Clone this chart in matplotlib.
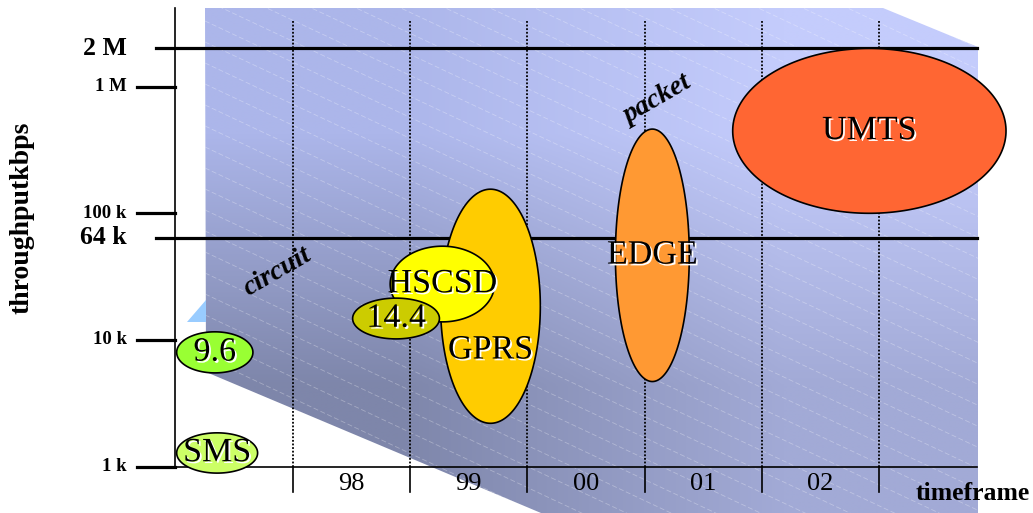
import numpy as np
import matplotlib
matplotlib.use('Agg')
import matplotlib.pyplot as plt
import matplotlib.patches as patches
import matplotlib.patheffects as pe

# throughput scale (bps)
tick_labels = ['2 M', '1 M', '100 k', '64 k', '10 k', '1 k']
tick_values = [2e6, 1e6, 1e5, 64e3, 1e4, 1e3]
tick_long = [True, False, False, True, False, False]

# time axis
year_bounds = [1998, 1999, 2000, 2001, 2002, 2003]
year_labels = ['98', '99', '00', '01', '02']

# technologies: time span (years) and throughput span (bps)
tech_names = ['SMS', '9.6', 'GPRS', 'HSCSD', '14.4', 'EDGE', 'UMTS']
tech_start = [1997.01, 1997.01, 1999.26, 1998.83, 1998.51, 2000.75, 2001.75]
tech_end = [1997.70, 1997.66, 2000.11, 1999.72, 1999.25, 2001.38, 2004.08]
tech_low = [0.89e3, 5.5e3, 2.2e3, 13.9e3, 10.2e3, 4.7e3, 100e3]
tech_high = [1.85e3, 11.6e3, 155e3, 55e3, 21.4e3, 462e3, 2.0e6]
tech_label_y = [None, None, 8.3e3, None, None, None, None]
tech_colors = ['#ccff66', '#99ff33', '#ffcc00', '#ffff00', '#cccc00', '#ff9933', '#ff6633']

SERIF = 'Liberation Serif'

fig = plt.figure(figsize=(10.33, 5.13), dpi=100)

# background panel in pixel space
bg = fig.add_axes([0, 0, 1, 1])
bg.axis('off')

panel = patches.Polygon([(205, 8), (883, 8), (978, 47), (978, 513), (541, 513), (206, 372)],
                        closed=True, facecolor='none', edgecolor='none')
bg.add_patch(panel)
grad = np.array([[[0xac, 0xb6, 0xea], [0xc4, 0xcc, 0xfc]],
                 [[0x7e, 0x86, 0xaa], [0xa2, 0xaa, 0xd6]]]) / 255.0
im = bg.imshow(grad, extent=(205, 978, 513, 8), interpolation='bilinear', aspect='auto')
im.set_clip_path(panel)

for c in range(-420, 520, 21):
    xs = np.array([205, 978])
    ln, = bg.plot(xs, c + 0.47 * (xs - 205), color='white', lw=0.6, alpha=0.3,
                  ls=(0, (6, 3)))
    ln.set_clip_path(panel)

bg.add_patch(patches.Polygon([(187, 322), (206, 300), (206, 322)],
                             closed=True, facecolor='#99ccff', edgecolor='none'))
bg.set_xlim(0, 1033)
bg.set_ylim(513, 0)

# main chart
ax = fig.add_axes([0, 0, 1, 1])
ax.set_yscale('log')
ax.set_xlim(1995.504, 2004.310)
ax.set_ylim(431, 4.826e6)
ax.axis('off')

x_axis_end = 2003.83
ax.plot([1997, 1997], [1e3, 4.17e6], color='black', lw=1.2, zorder=2)
ax.plot([1997, x_axis_end], [1e3, 1e3], color='black', lw=1.2, zorder=2)

for lab, v, long_line in zip(tick_labels, tick_values, tick_long):
    if long_line:
        ax.plot([1996.83, x_axis_end], [v, v], color='black', lw=2.3, zorder=2)
        fs = 18.5
    else:
        ax.plot([1996.67, 1997], [v, v], color='black', lw=2.3, zorder=2)
        fs = 13.5
    ax.text(1996.585, v, lab, ha='right', va='center', fontsize=fs,
            fontweight='bold', family=SERIF)

for b in year_bounds:
    ax.plot([b, b], [1e3, 3.36e6], color='black', lw=1.3, ls=(0, (1, 1)), zorder=2)
    ax.plot([b, b], [631, 1e3], color='black', lw=1.2, zorder=2)

for b, lab in zip(year_bounds, year_labels):
    ax.text(b + 0.5, 729, lab, ha='center', va='center', fontsize=19, family=SERIF)

ax.text(2004.28, 610, 'timeframe', ha='right', va='center', fontsize=18.5,
        fontweight='bold', family=SERIF)
ax.text(1995.691, 9.19e4, 'throughputkbps', ha='center', va='center', rotation=90,
        fontsize=20, fontweight='bold', family=SERIF)
ax.text(1997.865, 3.44e4, 'circuit', ha='center', va='center', rotation=30,
        fontsize=20, fontweight='bold', fontstyle='italic', family=SERIF)
ax.text(2001.113, 7.83e5, 'packet', ha='center', va='center', rotation=30,
        fontsize=20, fontweight='bold', fontstyle='italic', family=SERIF)

shadow = [pe.SimplePatchShadow(offset=(1.3, -1.3), shadow_rgbFace='white', alpha=1.0),
          pe.Normal()]
t = np.linspace(0, 2 * np.pi, 240)
for i, name in enumerate(tech_names):
    cx = (tech_start[i] + tech_end[i]) / 2
    rx = (tech_end[i] - tech_start[i]) / 2
    lo, hi = np.log10(tech_low[i]), np.log10(tech_high[i])
    cl, rl = (lo + hi) / 2, (hi - lo) / 2
    xs = cx + rx * np.cos(t)
    ys = 10 ** (cl + rl * np.sin(t))
    ax.add_patch(patches.Polygon(np.column_stack([xs, ys]), closed=True,
                                 facecolor=tech_colors[i], edgecolor='black',
                                 lw=1.2, zorder=3 + i * 0.1))
    ly = tech_label_y[i] if tech_label_y[i] else 10 ** cl
    ax.text(cx, ly, name, ha='center', va='center', fontsize=24.5, family=SERIF,
            zorder=5, path_effects=shadow)

fig.savefig('out.png', dpi=100)
